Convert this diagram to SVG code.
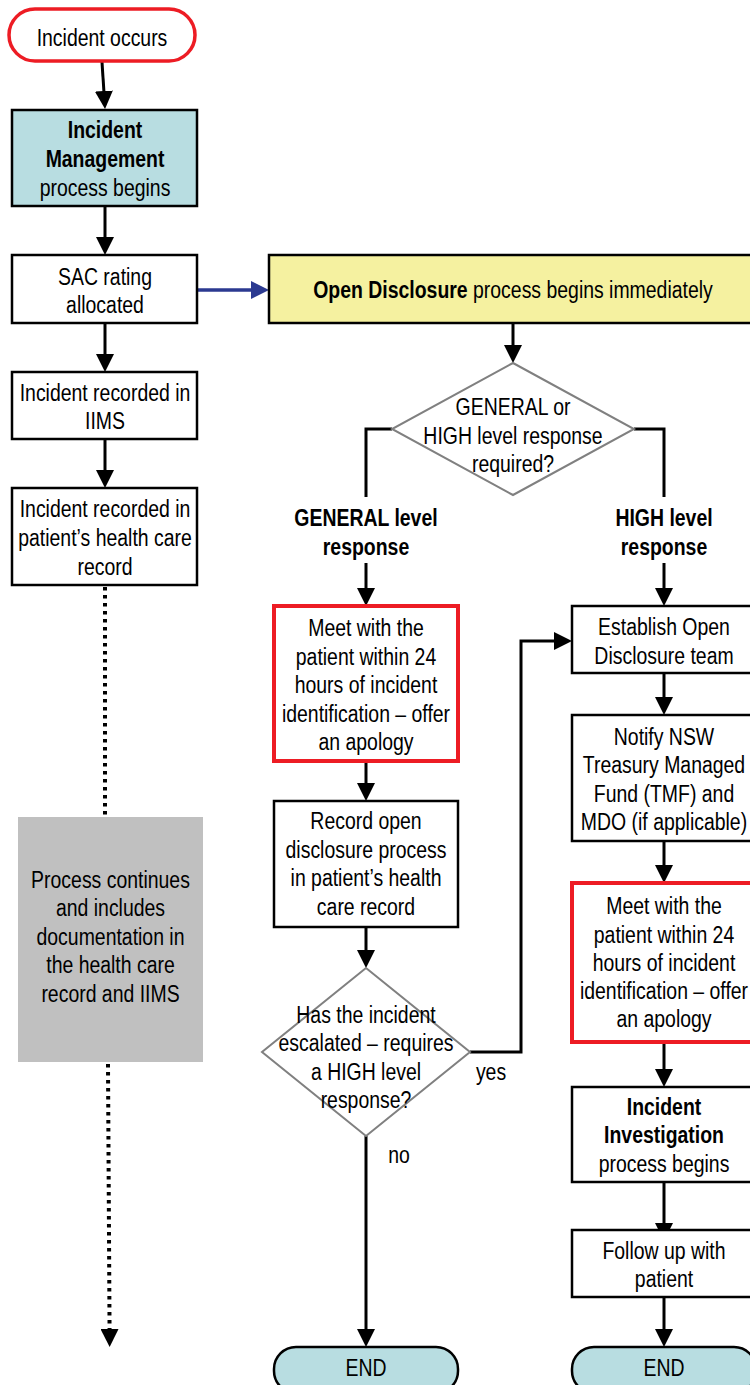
<svg xmlns="http://www.w3.org/2000/svg" width="750" height="1385" viewBox="0 0 750 1385">
<style>
.t{font-family:"Liberation Sans",Arial,sans-serif;font-size:24px;text-anchor:middle;fill:#000}
.b{font-weight:bold}
.box{fill:#fff;stroke:#000;stroke-width:2.5}
.teal{fill:#b8dde1}
.red{fill:#fff;stroke:#ed1c24;stroke-width:4}
.dia{fill:#fff;stroke:#808080;stroke-width:2}
.ln{fill:none;stroke:#000;stroke-width:3}
.dot{fill:none;stroke:#000;stroke-width:4;stroke-dasharray:3.5 4.5}
</style>
<defs>
<marker id="ah" markerUnits="userSpaceOnUse" markerWidth="18" markerHeight="18" viewBox="0 0 18 18" refX="8" refY="9" orient="auto"><path d="M0,0 L18,9 L0,18 z" fill="#000"/></marker>
<marker id="ahb" markerUnits="userSpaceOnUse" markerWidth="18" markerHeight="18" viewBox="0 0 18 18" refX="8" refY="9" orient="auto"><path d="M0,0 L18,9 L0,18 z" fill="#2b3990"/></marker>
</defs>
<rect width="750" height="1385" fill="#fff"/>
<g id="connectors">
<path class="ln" d="M102,62 L104.4,99" marker-end="url(#ah)"/>
<path class="ln" d="M105,206 L105,245" marker-end="url(#ah)"/>
<path d="M197,290 L259,290" fill="none" stroke="#2b3990" stroke-width="3.5" marker-end="url(#ahb)"/>
<path class="ln" d="M105,323 L105,362" marker-end="url(#ah)"/>
<path class="ln" d="M105,439 L105,478" marker-end="url(#ah)"/>
<path class="dot" d="M105,587 L105,817"/>
<path class="dot" d="M108,1064 L109.6,1337" marker-end="url(#ah)"/>
<path class="ln" d="M513,323 L513,353" marker-end="url(#ah)"/>
<path class="ln" d="M392,429 L366,429 L366,497"/>
<path class="ln" d="M366,563 L366,596" marker-end="url(#ah)"/>
<path class="ln" d="M634,429 L664,429 L664,497"/>
<path class="ln" d="M664,563 L664,596" marker-end="url(#ah)"/>
<path class="ln" d="M366,761 L366,791" marker-end="url(#ah)"/>
<path class="ln" d="M366,927 L366,958" marker-end="url(#ah)"/>
<path class="ln" d="M470,1052 L521,1052 L521,641 L562,641" marker-end="url(#ah)"/>
<path class="ln" d="M366,1136 L366,1337" marker-end="url(#ah)"/>
<path class="ln" d="M664,673 L664,705" marker-end="url(#ah)"/>
<path class="ln" d="M664,841 L664,873" marker-end="url(#ah)"/>
<path class="ln" d="M664,1042 L664,1077" marker-end="url(#ah)"/>
<path class="ln" d="M664,1182 L664,1231" marker-end="url(#ah)"/>
<path class="ln" d="M664,1297 L664,1337" marker-end="url(#ah)"/>
</g>
<g id="labels">
<text class="t b" transform="translate(366 0) scale(0.81 1)" x="0" y="526">GENERAL level</text>
<text class="t b" transform="translate(366 0) scale(0.81 1)" x="0" y="555">response</text>
<text class="t b" transform="translate(664 0) scale(0.81 1)" x="0" y="526">HIGH level</text>
<text class="t b" transform="translate(664 0) scale(0.81 1)" x="0" y="555">response</text>
<text class="t" transform="translate(491 0) scale(0.81 1)" x="0" y="1080">yes</text>
<text class="t" transform="translate(399 0) scale(0.81 1)" x="0" y="1163">no</text>
</g>
<g id="n-incident-occurs">
<rect x="9" y="9" width="186" height="52" rx="26" fill="#fff" stroke="#ed1c24" stroke-width="3.5"/>
<text class="t" transform="translate(102 0) scale(0.81 1)" x="0" y="46">Incident occurs</text>
</g>
<g id="n-incident-management">
<rect class="box teal" x="12" y="110" width="185" height="96"/>
<text class="t b" transform="translate(105 0) scale(0.81 1)" x="0" y="138.5">Incident</text>
<text class="t b" transform="translate(105 0) scale(0.81 1)" x="0" y="167.5">Management</text>
<text class="t" transform="translate(105 0) scale(0.81 1)" x="0" y="196.5">process begins</text>
</g>
<g id="n-sac">
<rect class="box" x="12" y="255" width="185" height="68"/>
<text class="t" transform="translate(105 0) scale(0.81 1)" x="0" y="285">SAC rating</text>
<text class="t" transform="translate(105 0) scale(0.81 1)" x="0" y="313">allocated</text>
</g>
<g id="n-iims">
<rect class="box" x="12" y="372" width="185" height="67"/>
<text class="t" transform="translate(105 0) scale(0.81 1)" x="0" y="401">Incident recorded in</text>
<text class="t" transform="translate(105 0) scale(0.81 1)" x="0" y="429">IIMS</text>
</g>
<g id="n-health-record">
<rect class="box" x="12" y="488" width="185" height="97"/>
<text class="t" transform="translate(105 0) scale(0.81 1)" x="0" y="517">Incident recorded in</text>
<text class="t" transform="translate(105 0) scale(0.81 1)" x="0" y="546">patient’s health care</text>
<text class="t" transform="translate(105 0) scale(0.81 1)" x="0" y="575">record</text>
</g>
<g id="n-process-continues">
<rect x="18" y="817" width="185" height="245" fill="#c0c0c0"/>
<text class="t" transform="translate(110.5 0) scale(0.81 1)" x="0" y="888">Process continues</text>
<text class="t" transform="translate(110.5 0) scale(0.81 1)" x="0" y="916.5">and includes</text>
<text class="t" transform="translate(110.5 0) scale(0.81 1)" x="0" y="945">documentation in</text>
<text class="t" transform="translate(110.5 0) scale(0.81 1)" x="0" y="973.5">the health care</text>
<text class="t" transform="translate(110.5 0) scale(0.81 1)" x="0" y="1002">record and IIMS</text>
</g>
<g id="n-open-disclosure">
<rect class="box" x="269" y="255" width="488" height="68" style="fill:#f5f1a0"/>
<text class="t" transform="translate(513 0) scale(0.81 1)" x="0" y="298"><tspan class="b">Open Disclosure</tspan> process begins immediately</text>
</g>
<g id="n-decision-level">
<polygon class="dia" points="513,363 634,429 513,495 392,429"/>
<text class="t" transform="translate(513 0) scale(0.81 1)" x="0" y="415">GENERAL or</text>
<text class="t" transform="translate(513 0) scale(0.81 1)" x="0" y="444">HIGH level response</text>
<text class="t" transform="translate(513 0) scale(0.81 1)" x="0" y="472.5">required?</text>
</g>
<g id="n-meet-general">
<rect class="red" x="274" y="606" width="184" height="155"/>
<text class="t" transform="translate(366 0) scale(0.81 1)" x="0" y="636">Meet with the</text>
<text class="t" transform="translate(366 0) scale(0.81 1)" x="0" y="665">patient within 24</text>
<text class="t" transform="translate(366 0) scale(0.81 1)" x="0" y="693.5">hours of incident</text>
<text class="t" transform="translate(366 0) scale(0.81 1)" x="0" y="722">identification – offer</text>
<text class="t" transform="translate(366 0) scale(0.81 1)" x="0" y="750.5">an apology</text>
</g>
<g id="n-record-open">
<rect class="box" x="274" y="801" width="184" height="126"/>
<text class="t" transform="translate(366 0) scale(0.81 1)" x="0" y="829">Record open</text>
<text class="t" transform="translate(366 0) scale(0.81 1)" x="0" y="858">disclosure process</text>
<text class="t" transform="translate(366 0) scale(0.81 1)" x="0" y="886.5">in patient’s health</text>
<text class="t" transform="translate(366 0) scale(0.81 1)" x="0" y="915">care record</text>
</g>
<g id="n-decision-escalated">
<polygon class="dia" points="366,968 470,1052 366,1136 262,1052"/>
<text class="t" transform="translate(366 0) scale(0.81 1)" x="0" y="1023">Has the incident</text>
<text class="t" transform="translate(366 0) scale(0.81 1)" x="0" y="1051.5">escalated – requires</text>
<text class="t" transform="translate(366 0) scale(0.81 1)" x="0" y="1080">a HIGH level</text>
<text class="t" transform="translate(366 0) scale(0.81 1)" x="0" y="1108.5">response?</text>
</g>
<g id="n-end-general">
<rect class="box teal" x="274" y="1347" width="184" height="46" rx="22"/>
<text class="t" transform="translate(366 0) scale(0.81 1)" x="0" y="1376">END</text>
</g>
<g id="n-establish">
<rect class="box" x="572" y="606" width="184" height="67"/>
<text class="t" transform="translate(664 0) scale(0.81 1)" x="0" y="635">Establish Open</text>
<text class="t" transform="translate(664 0) scale(0.81 1)" x="0" y="664">Disclosure team</text>
</g>
<g id="n-notify">
<rect class="box" x="572" y="715" width="184" height="126"/>
<text class="t" transform="translate(664 0) scale(0.81 1)" x="0" y="745">Notify NSW</text>
<text class="t" transform="translate(664 0) scale(0.81 1)" x="0" y="773.5">Treasury Managed</text>
<text class="t" transform="translate(664 0) scale(0.81 1)" x="0" y="802">Fund (TMF) and</text>
<text class="t" transform="translate(664 0) scale(0.81 1)" x="0" y="830">MDO (if applicable)</text>
</g>
<g id="n-meet-high">
<rect class="red" x="572" y="883" width="184" height="159"/>
<text class="t" transform="translate(664 0) scale(0.81 1)" x="0" y="914">Meet with the</text>
<text class="t" transform="translate(664 0) scale(0.81 1)" x="0" y="943">patient within 24</text>
<text class="t" transform="translate(664 0) scale(0.81 1)" x="0" y="971">hours of incident</text>
<text class="t" transform="translate(664 0) scale(0.81 1)" x="0" y="999.5">identification – offer</text>
<text class="t" transform="translate(664 0) scale(0.81 1)" x="0" y="1027">an apology</text>
</g>
<g id="n-investigation">
<rect class="box" x="572" y="1087" width="184" height="95"/>
<text class="t b" transform="translate(664 0) scale(0.81 1)" x="0" y="1115">Incident</text>
<text class="t b" transform="translate(664 0) scale(0.81 1)" x="0" y="1143.5">Investigation</text>
<text class="t" transform="translate(664 0) scale(0.81 1)" x="0" y="1172">process begins</text>
</g>
<g id="n-follow-up">
<rect class="box" x="572" y="1230" width="184" height="67"/>
<text class="t" transform="translate(664 0) scale(0.81 1)" x="0" y="1259">Follow up with</text>
<text class="t" transform="translate(664 0) scale(0.81 1)" x="0" y="1287">patient</text>
</g>
<g id="n-end-high">
<rect class="box teal" x="572" y="1347" width="184" height="46" rx="22"/>
<text class="t" transform="translate(664 0) scale(0.81 1)" x="0" y="1376">END</text>
</g>
</svg>
